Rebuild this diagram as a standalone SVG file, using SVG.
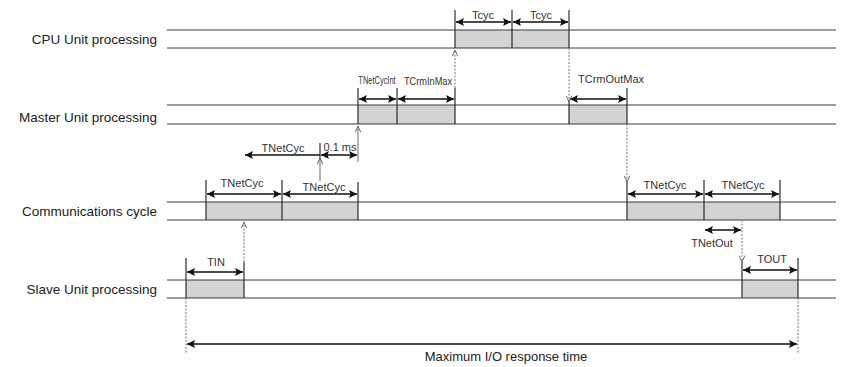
<svg xmlns="http://www.w3.org/2000/svg" width="844" height="367" viewBox="0 0 844 367">
<style>
.lane{stroke:#3a3a3a;stroke-width:1;fill:none}
.box{fill:#d3d3d3;stroke:none}
.tick{stroke:#2a2a2a;stroke-width:1.2;fill:none}
.dim{stroke:#111;stroke-width:1.3;fill:none;marker-start:url(#ah);marker-end:url(#ah)}
.dim1{stroke:#111;stroke-width:1.3;fill:none;marker-end:url(#ah)}
.dot{stroke:#8a8a8a;stroke-width:1.2;fill:none;stroke-dasharray:2 1.5}
.dota{stroke:#8a8a8a;stroke-width:1.2;fill:none;stroke-dasharray:2 1.5;marker-end:url(#ch)}
.sol{stroke:#777;stroke-width:1.1;fill:none;marker-end:url(#ch)}
.lbl{font-family:"Liberation Sans",Arial,sans-serif;font-size:13.5px;fill:#222;text-anchor:end}
.t{font-family:"Liberation Sans",Arial,sans-serif;font-size:11px;fill:#333;text-anchor:middle}
.big{font-family:"Liberation Sans",Arial,sans-serif;font-size:13px;fill:#222;text-anchor:middle}
</style>
<defs>
<marker id="ah" viewBox="0 0 10 10" refX="10" refY="5" markerWidth="8" markerHeight="8" markerUnits="userSpaceOnUse" orient="auto-start-reverse">
<path d="M0,0 L10,5 L0,10 L2,5 Z" fill="#111"/>
</marker>
<marker id="ch" viewBox="0 0 10 10" refX="10" refY="5" markerWidth="7" markerHeight="7" markerUnits="userSpaceOnUse" orient="auto">
<path d="M1,1 L10,5 L1,9" fill="none" stroke="#666" stroke-width="1.4"/>
</marker>
</defs>

<g id="cpu">
<rect class="box" x="455" y="30" width="114" height="18"/>
<line class="lane" x1="167" y1="30" x2="836" y2="30"/>
<line class="lane" x1="167" y1="48" x2="836" y2="48"/>
<text class="lbl" x="157" y="44">CPU Unit processing</text>
<line class="tick" x1="455" y1="10" x2="455" y2="48"/>
<line class="tick" x1="512" y1="10" x2="512" y2="48"/>
<line class="tick" x1="569" y1="10" x2="569" y2="48"/>
<line class="dim" x1="456" y1="22" x2="511" y2="22"/>
<line class="dim" x1="513" y1="22" x2="568" y2="22"/>
<text class="t" x="483" y="19">Tcyc</text>
<text class="t" x="541" y="19">Tcyc</text>
</g>

<g id="master">
<rect class="box" x="358" y="105" width="97" height="19"/>
<rect class="box" x="569" y="105" width="58" height="19"/>
<line class="lane" x1="167" y1="105" x2="836" y2="105"/>
<line class="lane" x1="167" y1="124" x2="836" y2="124"/>
<text class="lbl" x="157" y="122">Master Unit processing</text>
<line class="tick" x1="358" y1="88" x2="358" y2="124"/>
<line class="tick" x1="397" y1="88" x2="397" y2="124"/>
<line class="tick" x1="455" y1="88" x2="455" y2="124"/>
<line class="tick" x1="569" y1="100" x2="569" y2="124"/>
<line class="tick" x1="627" y1="88" x2="627" y2="124"/>
<line class="dim" x1="359" y1="99" x2="396" y2="99"/>
<line class="dim" x1="398" y1="99" x2="454" y2="99"/>
<line class="dim" x1="570" y1="99" x2="626" y2="99"/>
<text class="t" transform="translate(377,84) scale(0.68,1)">TNetCycInt</text>
<text class="t" transform="translate(428,85) scale(0.84,1)">TCrmInMax</text>
<text class="t" x="611" y="83">TCrmOutMax</text>
</g>

<g id="comm">
<rect class="box" x="206" y="202" width="152" height="18"/>
<rect class="box" x="627" y="202" width="153" height="18"/>
<line class="lane" x1="167" y1="202" x2="836" y2="202"/>
<line class="lane" x1="167" y1="220" x2="836" y2="220"/>
<text class="lbl" x="157" y="216">Communications cycle</text>
<line class="tick" x1="206" y1="180" x2="206" y2="220"/>
<line class="tick" x1="282" y1="180" x2="282" y2="220"/>
<line class="tick" x1="358" y1="182" x2="358" y2="220"/>
<line class="tick" x1="627" y1="182" x2="627" y2="220"/>
<line class="tick" x1="704" y1="180" x2="704" y2="220"/>
<line class="tick" x1="780" y1="180" x2="780" y2="220"/>
<line class="dim" x1="207" y1="194" x2="281" y2="194"/>
<line class="dim" x1="283" y1="194" x2="357" y2="194"/>
<line class="dim" x1="628" y1="194" x2="703" y2="194"/>
<line class="dim" x1="705" y1="194" x2="779" y2="194"/>
<text class="t" x="242" y="187">TNetCyc</text>
<text class="t" x="324" y="191">TNetCyc</text>
<text class="t" x="665" y="189">TNetCyc</text>
<text class="t" x="743" y="189">TNetCyc</text>
<line class="tick" x1="320" y1="143" x2="320" y2="160"/>
<line class="dim1" x1="320" y1="155" x2="245" y2="155"/>
<line class="dim" x1="321" y1="155" x2="357" y2="155"/>
<text class="t" x="283" y="152">TNetCyc</text>
<text class="t" x="340" y="151">0.1 ms</text>
<line class="dim" x1="705" y1="230" x2="741" y2="230"/>
<text class="t" x="712" y="247">TNetOut</text>
</g>

<g id="slave">
<rect class="box" x="186" y="280" width="58" height="18"/>
<rect class="box" x="742" y="280" width="56" height="18"/>
<line class="lane" x1="167" y1="280" x2="836" y2="280"/>
<line class="lane" x1="167" y1="298" x2="836" y2="298"/>
<text class="lbl" x="157" y="294">Slave Unit processing</text>
<line class="tick" x1="186" y1="258" x2="186" y2="298"/>
<line class="tick" x1="244" y1="262" x2="244" y2="298"/>
<line class="tick" x1="742" y1="262" x2="742" y2="298"/>
<line class="tick" x1="798" y1="258" x2="798" y2="298"/>
<line class="dim" x1="187" y1="272" x2="243" y2="272"/>
<line class="dim" x1="743" y1="270" x2="797" y2="270"/>
<text class="t" x="216" y="266">TIN</text>
<text class="t" x="772" y="263">TOUT</text>
</g>

<g id="response">
<line class="dot" x1="186" y1="298" x2="186" y2="353"/>
<line class="dot" x1="798" y1="298" x2="798" y2="353"/>
<line class="dim" x1="187" y1="344" x2="797" y2="344"/>
<text class="big" x="506" y="361">Maximum I/O response time</text>
</g>

<g id="connectors">
<line class="dota" x1="244" y1="262" x2="244" y2="222"/>
<line class="sol" x1="320" y1="181" x2="320" y2="158"/>
<line class="sol" x1="358" y1="162" x2="358" y2="126"/>
<line class="dota" x1="455" y1="88" x2="455" y2="50"/>
<line class="dota" x1="569" y1="48" x2="569" y2="102"/>
<line class="dota" x1="627" y1="124" x2="627" y2="182"/>
<line class="dota" x1="742" y1="220" x2="742" y2="262"/>
</g>
</svg>
